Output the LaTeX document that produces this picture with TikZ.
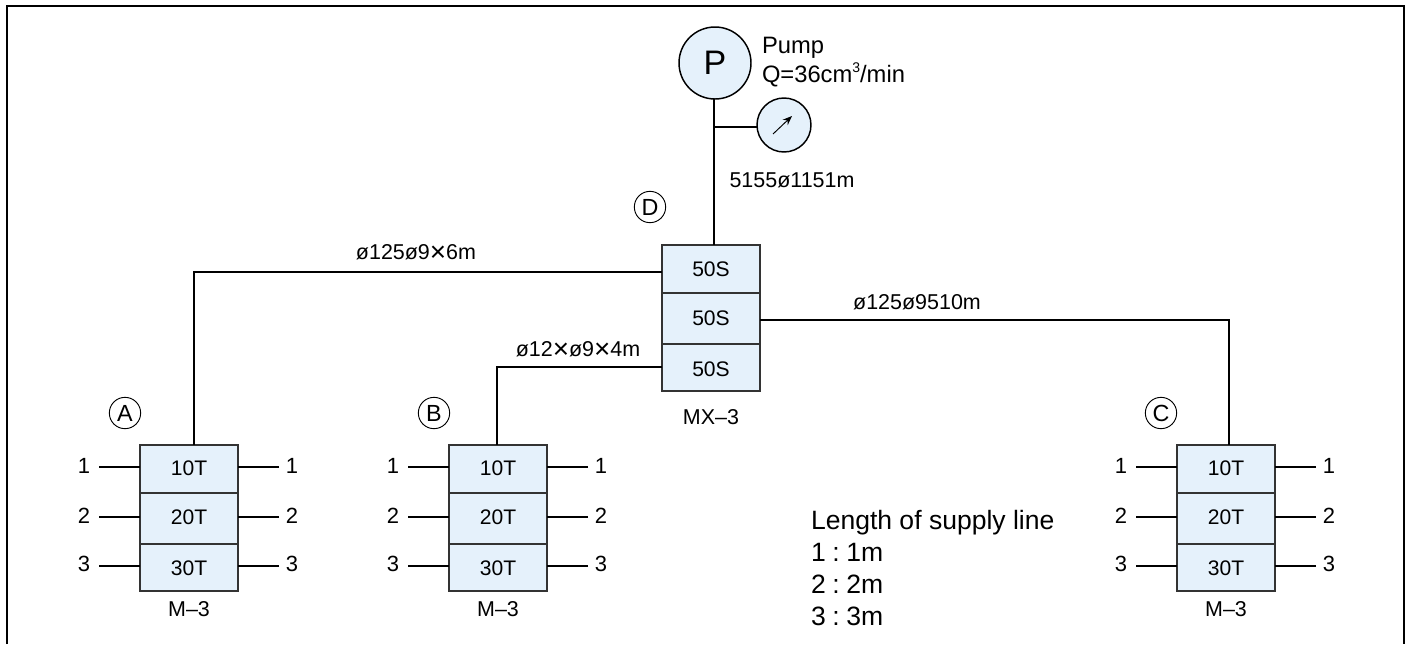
\documentclass[tikz,border=0pt]{standalone}
\usepackage{fontspec}
\setmainfont{Liberation Sans}
\usetikzlibrary{arrows.meta}
\newcommand{\xcross}{\raisebox{-0.06em}{\scalebox{1.3}{×}}}
\tikzset{
  x=0.75pt, y=-0.75pt,
  wire/.style={draw=black, line width=1.1pt},
  stub/.style={draw=black, line width=0.8pt},
  cell/.style={draw=black!80, line width=1.05pt, fill=cellblue, minimum width=73.5pt, inner sep=0pt, outer sep=0pt},
  celltxt/.style={inner sep=0pt, outer sep=0pt, font=\fontsize{15.8}{18}\selectfont},
  txt/.style={inner sep=0pt, outer sep=0pt, font=\fontsize{16.1}{18}\selectfont},
  num/.style={inner sep=0pt, outer sep=0pt, font=\fontsize{16.5}{18}\selectfont},
  big/.style={inner sep=0pt, outer sep=0pt, anchor=base west, font=\fontsize{19.9}{22}\selectfont},
  pumptxt/.style={inner sep=0pt, outer sep=0pt, anchor=base west, font=\fontsize{17.8}{20}\selectfont},
  tag/.style={circle, draw=black, line width=0.7pt, minimum size=23.5pt, inner sep=0pt, font=\fontsize{17.5}{18}\selectfont},
  dial/.style={circle, draw=black, line width=1.1pt, fill=cellblue, inner sep=0pt, outer sep=0pt},
}
\definecolor{cellblue}{HTML}{E5F1FB}
% name, left x, y1, y2, y3, y4
\newcommand{\stack}[6]{%
  \node[cell, minimum height=#4*0.75pt-#3*0.75pt, anchor=north west] (#1a) at (#2,#3) {};
  \node[cell, minimum height=#5*0.75pt-#4*0.75pt, anchor=north west] (#1b) at (#2,#4) {};
  \node[cell, minimum height=#6*0.75pt-#5*0.75pt, anchor=north west] (#1c) at (#2,#5) {};
}
\newcommand{\unitlabels}[2]{% name, left x
  \stack{#1}{#2}{445}{493}{544}{591}
  \node[celltxt] (#1ta) at (#2+49,468) {10T};
  \node[celltxt] (#1tb) at (#2+49,517.5) {20T};
  \node[celltxt] (#1tc) at (#2+49,568) {30T};
  \node[txt] (#1name) at (#2+49,609) {M–3};
  \node[num] (#1la) at (#2-56,466) {1};
  \node[num] (#1lb) at (#2-56,516) {2};
  \node[num] (#1lc) at (#2-56,564) {3};
  \node[num] (#1ra) at (#2+152,466) {1};
  \node[num] (#1rb) at (#2+152,516) {2};
  \node[num] (#1rc) at (#2+152,564) {3};
  \coordinate (#1sla) at (#2-41,467);
  \coordinate (#1slb) at (#2-41,517);
  \coordinate (#1slc) at (#2-41,566);
  \coordinate (#1sra) at (#2+139,467);
  \coordinate (#1srb) at (#2+139,517);
  \coordinate (#1src) at (#2+139,566);
  \draw[stub] (#1sla) -- (#1sla -| #1a.west);
  \draw[stub] (#1slb) -- (#1slb -| #1b.west);
  \draw[stub] (#1slc) -- (#1slc -| #1c.west);
  \draw[stub] (#1sra) -- (#1sra -| #1a.east);
  \draw[stub] (#1srb) -- (#1srb -| #1b.east);
  \draw[stub] (#1src) -- (#1src -| #1c.east);
}
\begin{document}
\begin{tikzpicture}
\useasboundingbox (0,0) rectangle (1410,644);
% frame, open at the bottom edge
\coordinate (fbl) at (6.5,644);
\coordinate (ftl) at (6.5,5.5);
\coordinate (ftr) at (1404,5.5);
\coordinate (fbr) at (1404,644);
\draw[line width=1.5pt] (fbl) -- (ftl) -- (ftr) -- (fbr);

% units
\unitlabels{A}{140}
\unitlabels{B}{449}
\unitlabels{C}{1177}

% manifold
\stack{M}{662}{245}{293}{344}{391}
\node[celltxt] (Mta) at (711,269) {50S};
\node[celltxt] (Mtb) at (711,318) {50S};
\node[celltxt] (Mtc) at (711,369) {50S};
\node[txt] (Mname) at (711,417) {MX–3};

% pump and gauge
\node[dial, minimum size=54pt, font=\fontsize{25.5}{26}\selectfont] (pump) at (715,63) {P};
\node[dial, minimum size=40.5pt] (gauge) at (784,125) {};
\coordinate (gs) at (773,134);
\coordinate (ge) at (792,116);
\draw[line width=0.7pt, -{Stealth[length=7pt,width=5.5pt]}] (gs) -- (ge);
\node[pumptxt] (pl1) at (762,53) {Pump};
\node[pumptxt] (pl2) at (762,82) {Q=36cm\raisebox{0.42em}{\fontsize{10.5}{12}\selectfont 3}/min};

% main line
\coordinate (mtop) at (714,245);
\coordinate (jn) at (714,127);
\draw[wire] (jn |- pump.south) -- (mtop);
\draw[wire] (jn) -- (gauge.west |- jn);

% branches
\coordinate (ca) at (194,272);
\coordinate (cb) at (497,367);
\coordinate (cc) at (1229,320);
\draw[wire] (ca -| Ma.west) -- (ca) -- (ca |- Aa.north);
\draw[wire] (cb -| Mc.west) -- (cb) -- (cb |- Ba.north);
\draw[wire] (cc -| Mb.east) -- (cc) -- (cc |- Ca.north);

% dimension labels
\node[txt] (l0) at (792,180) {5155ø1151m};
\node[txt] (l1) at (416,253) {ø125ø9\xcross6m};
\node[txt] (l2) at (578,350) {ø12\xcross ø9\xcross4m};
\node[txt] (l3) at (917,302) {ø125ø9510m};

% circled tags
\node[tag] (tA) at (125,413) {A};
\node[tag] (tB) at (434,413) {B};
\node[tag] (tC) at (1161,413) {C};
\node[tag] (tD) at (650,207) {D};

% legend
\node[big] (g0) at (811,529) {Length of supply line};
\node[big] (g1) at (811,561) {1\hspace{0.25em}:\hspace{0.25em}1m};
\node[big] (g2) at (811,593) {2\hspace{0.25em}:\hspace{0.25em}2m};
\node[big] (g3) at (811,625) {3\hspace{0.25em}:\hspace{0.25em}3m};
\end{tikzpicture}
\end{document}
